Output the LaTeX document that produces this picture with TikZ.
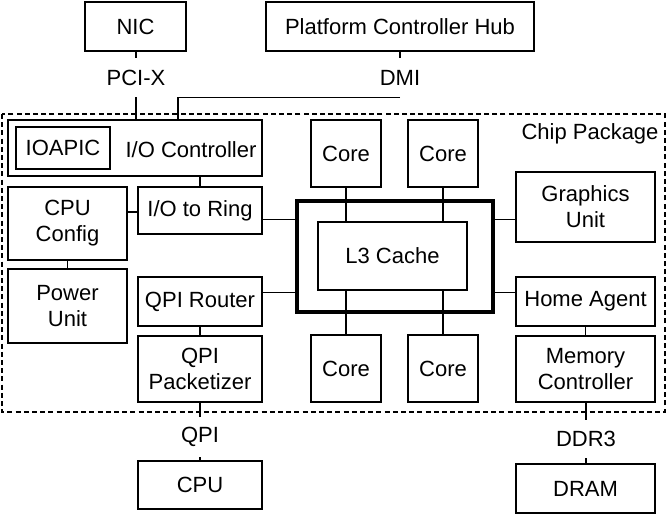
\documentclass[tikz,border=0pt]{standalone}
\usepackage{fontspec}
\setmainfont{Liberation Sans}
\usetikzlibrary{calc}
\begin{document}
\begin{tikzpicture}[x=0.5pt,y=-0.5pt,
  every node/.style={font=\fontsize{11}{13}\selectfont, inner sep=0pt, align=center},
  box/.style={draw, line width=0.65pt},
  lbl/.style={minimum height=19.5pt},
  conn/.style={line width=0.65pt},
  ringbox/.style={draw, line width=1.7pt},
  pkg/.style={draw, line width=0.65pt, dash pattern=on 2.5pt off 1.6pt}]
\useasboundingbox (0,0) rectangle (668,516);
% chip package
\draw[pkg] (2,114) rectangle (665,412);
\node (pkglbl) at (590,134) {Chip Package};
% outside
\node[box, minimum width=50.5pt, minimum height=24.5pt] (nic) at (135.5,26.5) {NIC};
\node[box, minimum width=134pt, minimum height=24.5pt] (pch) at (400,26.5) {Platform Controller Hub};
\node[lbl] (pcix) at (136,77.5) {PCI-X};
\node[lbl] (dmi) at (400,77.5) {DMI};
% I/O controller
\node[box, minimum width=127pt, minimum height=28pt] (ioc) at (135,148) {};
\node[box, minimum width=47pt, minimum height=21pt] (ioapic) at (63,148) {IOAPIC};
\node (ioclbl) at (191,150) {I/O Controller};
\coordinate (iocdmi) at (178,120);
% cores
\node[box, minimum width=35pt, minimum height=33.5pt] (core1) at (346,153.5) {Core};
\node[box, minimum width=35pt, minimum height=33.5pt] (core2) at (443,153.5) {Core};
\node[box, minimum width=35pt, minimum height=33.5pt] (core3) at (346,368.5) {Core};
\node[box, minimum width=35pt, minimum height=33.5pt] (core4) at (443,368.5) {Core};
% left column
\node[box, minimum width=59.5pt, minimum height=36.5pt] (cfg) at (67.5,223.5) {CPU\\Config};
\node[box, minimum width=59.5pt, minimum height=37pt] (pwr) at (67.5,306) {Power\\Unit};
\node[box, minimum width=62pt, minimum height=23.5pt] (ioring) at (200,210.5) {I/O to Ring};
\node[box, minimum width=62pt, minimum height=24.5pt] (qpir) at (200,301.5) {QPI Router};
\node[box, minimum width=62pt, minimum height=33pt] (qpip) at (200,369) {QPI\\Packetizer};
% ring and L3
\node[ringbox, minimum width=98pt, minimum height=55.5pt] (ring) at (395,256.5) {};
\node[box, minimum width=74.5pt, minimum height=34pt] (l3) at (392.5,256) {L3 Cache};
% right column
\node[box, minimum width=69.5pt, minimum height=35pt] (gfx) at (585.5,207) {Graphics\\Unit};
\node[box, minimum width=69.5pt, minimum height=24.5pt] (home) at (585.5,301.5) {Home Agent};
\node[box, minimum width=69.5pt, minimum height=33pt] (mem) at (585.5,369) {Memory\\Controller};
% bottom
\node[lbl, minimum height=20pt] (qpi) at (200,437) {QPI};
\node[box, minimum width=62pt, minimum height=24pt] (cpu) at (200,485) {CPU};
\node[lbl, minimum height=19pt] (ddr) at (586,439) {DDR3};
\node[box, minimum width=69.5pt, minimum height=24.5pt] (dram) at (585.5,488.5) {DRAM};
% connectors
\draw[conn] (nic.south -| pcix) -- (pcix.north);
\draw[conn] (pcix.south) -- (pcix.south |- ioc.north);
\draw[conn] (pch.south) -- (dmi.north);
\draw[conn] (dmi.south) -| (iocdmi);
\draw[conn] (ioring.north) -- (ioring.north |- ioc.south);
\draw[conn] (cfg.east |- 0,212) -- (ioring.west |- 0,212);
\draw[conn] (cfg) -- (pwr);
\draw[conn] ([yshift=18.5pt]ring.west) -- ([yshift=18.5pt]ring.west -| ioring.east);
\draw[conn] ([yshift=-18pt]ring.west) -- ([yshift=-18pt]ring.west -| qpir.east);
\draw[conn] ([yshift=18.5pt]ring.east) -- ([yshift=18.5pt]ring.east -| gfx.west);
\draw[conn] ([yshift=-18pt]ring.east) -- ([yshift=-18pt]ring.east -| home.west);
\draw[conn] (qpir) -- (qpip);
\draw[conn] (home) -- (mem);
\draw[conn] (core1.south) -- (core1.south |- l3.north);
\draw[conn] (core2.south) -- (core2.south |- l3.north);
\draw[conn] (core3.north) -- (core3.north |- l3.south);
\draw[conn] (core4.north) -- (core4.north |- l3.south);
\draw[conn] (qpip.south) -- (qpi.north);
\draw[conn] (qpi.south) -- (cpu.north);
\draw[conn] (mem.south -| ddr) -- (ddr.north);
\draw[conn] (ddr.south) -- (ddr.south |- dram.north);
\end{tikzpicture}
\end{document}
